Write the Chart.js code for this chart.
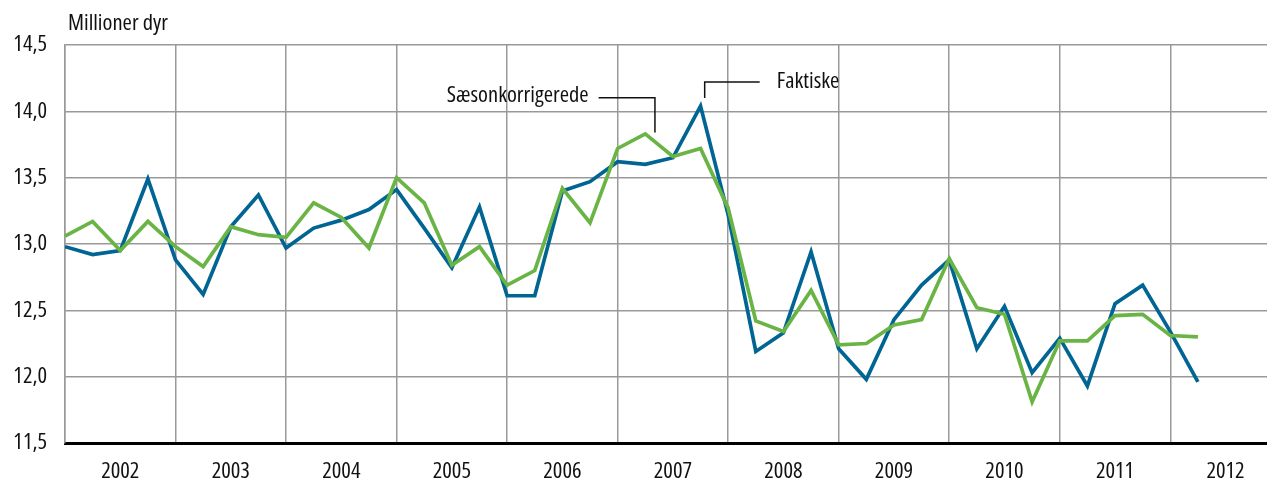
<!DOCTYPE html>
<html>
<head>
<meta charset="utf-8">
<script src="https://cdn.jsdelivr.net/npm/chart.js@4/dist/chart.umd.min.js"></script>
<style>
html,body{margin:0;padding:0;background:#fff;}
#wrap{width:1267px;height:479px;}
</style>
</head>
<body>
<div id="wrap"><canvas id="c" width="1267" height="479"></canvas></div>
<script>
const years = ['2002','2003','2004','2005','2006','2007','2008','2009','2010','2011','2012'];
const quarters = [];
for (let y = 2002; y <= 2012; y++) for (let q = 1; q <= 4; q++) quarters.push(y + 'K' + q);
const faktiske = [12.98, 12.92, 12.95, 13.49, 12.88, 12.62, 13.13, 13.37, 12.97, 13.12, 13.18, 13.26,
  13.41, 13.12, 12.82, 13.28, 12.61, 12.61, 13.40, 13.47, 13.62, 13.60, 13.65, 14.04,
  13.22, 12.19, 12.33, 12.94, 12.21, 11.98, 12.43, 12.69, 12.88, 12.21, 12.53, 12.03,
  12.29, 11.93, 12.55, 12.69, 12.34, 11.96];
const saesonkorrigerede = [13.06, 13.17, 12.95, 13.17, 12.98, 12.83, 13.13, 13.07, 13.05, 13.31, 13.20, 12.97,
  13.50, 13.31, 12.84, 12.98, 12.69, 12.80, 13.42, 13.16, 13.72, 13.83, 13.66, 13.72,
  13.27, 12.42, 12.34, 12.65, 12.24, 12.25, 12.39, 12.43, 12.89, 12.52, 12.47, 11.81,
  12.27, 12.27, 12.46, 12.47, 12.31, 12.30];
const yTicks = [11.5, 12.0, 12.5, 13.0, 13.5, 14.0, 14.5];
const yTitle = 'Millioner dyr';
const labelSaeson = 'Sæsonkorrigerede';
const labelFaktiske = 'Faktiske';

const FAMILY = "'Open Sans', 'DejaVu Sans Condensed', sans-serif";
const STRETCH = 'semi-condensed';
const SIZE = 22.5;
const CSSFONT = STRETCH + ' ' + SIZE + 'px ' + FAMILY;
const toPts = arr => arr.map((v, i) => ({x: i, y: v}));

const annot = {
  id: 'annot',
  afterDraw(chart) {
    const ctx = chart.ctx, xs = chart.scales.x, ys = chart.scales.y;
    const px = v => xs.getPixelForValue(v), py = v => ys.getPixelForValue(v);
    ctx.save();
    ctx.fillStyle = '#111';
    ctx.font = CSSFONT;
    ctx.textBaseline = 'alphabetic';
    ctx.textAlign = 'left';
    ctx.fillText(yTitle, 68, 29.5);
    ctx.strokeStyle = '#111';
    ctx.lineWidth = 1.5;
    // Sæsonkorrigerede leader
    ctx.beginPath();
    ctx.moveTo(px(19.31), py(14.103));
    ctx.lineTo(px(21.35), py(14.103));
    ctx.lineTo(px(21.35), py(13.84));
    ctx.stroke();
    ctx.textAlign = 'right';
    ctx.fillText(labelSaeson, px(18.95), py(14.074));
    // Faktiske leader
    ctx.beginPath();
    ctx.moveTo(px(23.15), py(14.10));
    ctx.lineTo(px(23.15), py(14.221));
    ctx.lineTo(px(25.14), py(14.221));
    ctx.stroke();
    ctx.textAlign = 'left';
    ctx.fillText(labelFaktiske, px(25.76), py(14.174));
    ctx.restore();
  }
};

new Chart(document.getElementById('c'), {
  type: 'line',
  data: {
    labels: quarters.slice(0, faktiske.length),
    datasets: [
      { label: labelSaeson, data: toPts(saesonkorrigerede), borderColor: '#6ab445', borderWidth: 3.7, pointRadius: 0, tension: 0, fill: false },
      { label: labelFaktiske, data: toPts(faktiske), borderColor: '#006592', borderWidth: 3.7, pointRadius: 0, tension: 0, fill: false }
    ]
  },
  options: {
    responsive: false,
    animation: false,
    devicePixelRatio: 1,
    layout: { padding: { top: 45, right: 0, left: 0, bottom: 0 } },
    plugins: { legend: { display: false }, tooltip: { enabled: false }, title: { display: false } },
    scales: {
      x: {
        type: 'linear',
        min: 0,
        max: 43.5,
        afterBuildTicks: s => { const t = []; for (let v = 0; v <= 42; v += 2) t.push({value: v}); s.ticks = t; },
        afterFit: s => { s.height = 36; },
        ticks: {
          autoSkip: false,
          maxRotation: 0,
          padding: 15,
          color: '#111',
          font: { family: FAMILY, size: SIZE, weight: STRETCH },
          callback: v => (v % 4 === 2 ? years[(v - 2) / 4] : '')
        },
        grid: {
          drawTicks: false,
          color: c => (c.tick && c.tick.value % 4 === 0 ? '#999' : 'rgba(0,0,0,0)'),
          lineWidth: 1.5
        },
        border: { display: true, color: '#000', width: 3 }
      },
      y: {
        min: 11.5,
        max: 14.5,
        afterBuildTicks: s => { s.ticks = yTicks.map(v => ({value: v})); },
        afterFit: s => { s.width = 65; },
        ticks: {
          padding: 18,
          color: '#111',
          font: { family: FAMILY, size: SIZE, weight: STRETCH },
          callback: v => v.toFixed(1).replace('.', ',')
        },
        grid: { drawTicks: false, color: '#999', lineWidth: 1.5 },
        border: { display: true, color: '#999', width: 1.5 }
      }
    }
  },
  plugins: [annot]
});
</script>
</body>
</html>
